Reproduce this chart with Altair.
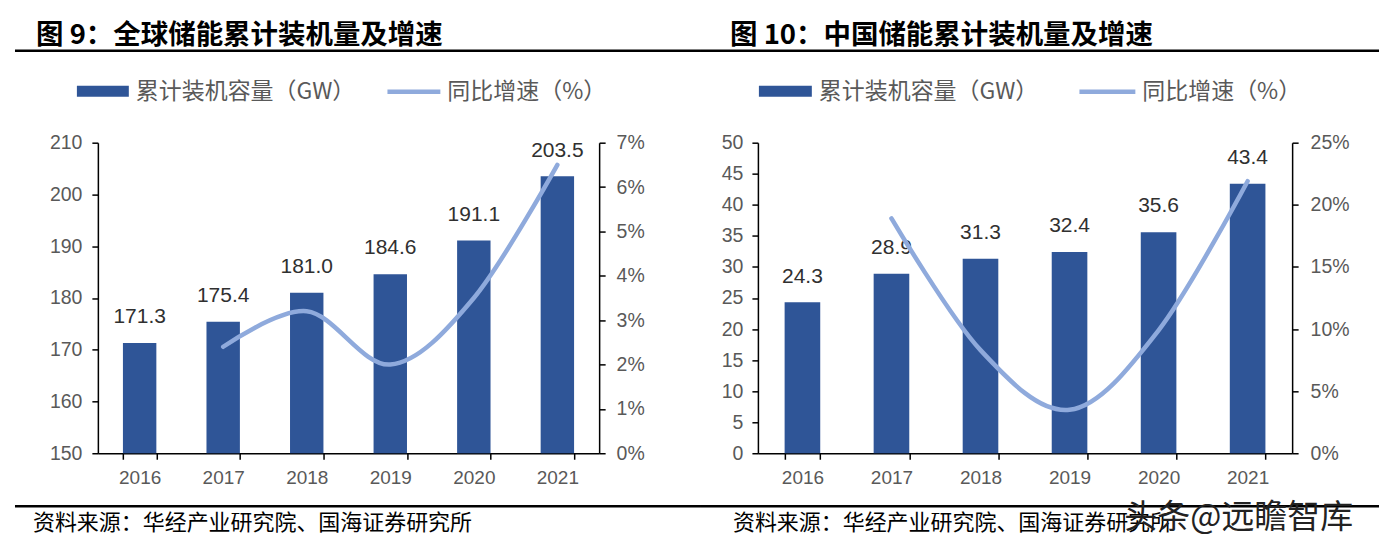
import altair as alt
import pandas as pd

# ---------------- data ----------------
years = ["2016", "2017", "2018", "2019", "2020", "2021"]
global_cap = [171.3, 175.4, 181.0, 184.6, 191.1, 203.5]
global_growth = [None, 2.4, 3.2, 2.0, 3.5, 6.5]
china_cap = [24.3, 28.9, 31.3, 32.4, 35.6, 43.4]
china_growth = [None, 18.9, 8.3, 3.5, 9.9, 21.9]

left_ticks = [150, 160, 170, 180, 190, 200, 210]
left_pct_ticks = [0, 1, 2, 3, 4, 5, 6, 7]
right_ticks = [0, 5, 10, 15, 20, 25, 30, 35, 40, 45, 50]
right_pct_ticks = [0, 5, 10, 15, 20, 25]

titles = ["图 9：全球储能累计装机量及增速", "图 10：中国储能累计装机量及增速"]
legend_labels = ["累计装机容量（GW）", "同比增速（%）"]
source_text = "资料来源：华经产业研究院、国海证券研究所"
watermark = "头条@远瞻智库"

# ---------------- styles ----------------
BAR = "#2F5597"
LINE = "#8FAADC"
AXIS_TXT = "#595959"
CJK = "Noto Sans CJK SC"
NUM = "Liberation Sans"
H = 311


def one(t=""):
    return alt.Chart(pd.DataFrame({"t": [t]}))


def text_deco(t, x, y, size, color="black", weight="normal", font=CJK):
    return one(t).mark_text(
        align="left", baseline="middle", font=font, fontSize=size,
        color=color, fontWeight=weight
    ).encode(x=alt.value(x), y=alt.value(y), text="t:N")


def rule_deco(x1, x2, y, color="black", sw=2.5):
    return one().mark_rule(color=color, strokeWidth=sw).encode(
        x=alt.value(x1), x2=alt.value(x2), y=alt.value(y)
    )


def rect_deco(x1, x2, y1, y2, color):
    return one().mark_rect(color=color).encode(
        x=alt.value(x1), x2=alt.value(x2), y=alt.value(y1), y2=alt.value(y2)
    )


def panel(cap, growth, cap_dom, cap_ticks, pct_dom, pct_ticks, width, decos,
          lab_pad_left, lab_pad_right):
    df = pd.DataFrame({"year": years, "cap": cap, "growth": growth})
    base = alt.Chart(df)
    xenc = alt.X(
        "year:N",
        scale=alt.Scale(paddingInner=0.6, paddingOuter=0.3),
        axis=alt.Axis(
            title=None, labelAngle=0, tickBand="extent", ticks=True, tickSize=6,
            tickColor="black", tickWidth=1.5, domainColor="black", domainWidth=1.5,
            labelFont=NUM, labelFontSize=19, labelColor=AXIS_TXT,
            labelBaseline="middle", labelPadding=18, grid=False,
        ),
    )
    yenc = alt.Y(
        "cap:Q",
        scale=alt.Scale(domain=cap_dom, nice=False, zero=False),
        axis=alt.Axis(
            title=None, orient="left", values=cap_ticks, tickSize=6, tickColor="black",
            tickWidth=1.5, domainColor="black", domainWidth=1.5,
            labelFont=NUM, labelFontSize=19.5, labelColor=AXIS_TXT,
            labelPadding=lab_pad_left, grid=False,
        ),
    )
    bars = base.mark_bar(color=BAR).encode(x=xenc, y=yenc, y2=alt.datum(cap_dom[0]))
    labels = base.mark_text(
        dy=-25.7, baseline="middle", font=NUM, fontSize=21, color="#303030"
    ).encode(
        x="year:N",
        y=yenc,
        text=alt.Text("cap:Q", format=".1f"),
    )
    line = base.mark_line(
        interpolate="cardinal", strokeWidth=4.5, color=LINE, strokeCap="round"
    ).encode(
        x="year:N",
        y=alt.Y(
            "growth:Q",
            scale=alt.Scale(domain=pct_dom, nice=False),
            axis=alt.Axis(
                title=None, orient="right", values=pct_ticks,
                labelExpr="datum.value + '%'", tickSize=6, tickColor="black",
                tickWidth=1.5, domainColor="black", domainWidth=1.5,
                labelFont=NUM, labelFontSize=19.5, labelColor=AXIS_TXT,
                labelPadding=lab_pad_right, grid=False,
            ),
        ),
    )
    inner = alt.layer(bars, labels)
    return alt.layer(inner, line, *decos).resolve_scale(y="independent").properties(
        width=width, height=H
    )


left_decos = [
    text_deco(titles[0], -62, -107, 27.5, weight="bold"),
    rule_deco(-83, 604, -92),
    rect_deco(-21, 31, -57, -46, BAR),
    text_deco(legend_labels[0], 38, -51, 23, color=AXIS_TXT),
    rule_deco(290, 343, -51, color=LINE, sw=4.5),
    text_deco(legend_labels[1], 350, -51, 23, color=AXIS_TXT),
    rule_deco(-83, 604, 364),
    text_deco(source_text, -65, 381, 22),
]

right_decos = [
    text_deco(titles[1], -28, -107, 27.5, weight="bold"),
    rule_deco(-57, 622, -92),
    rect_deco(1, 54, -57, -46, BAR),
    text_deco(legend_labels[0], 61, -51, 23, color=AXIS_TXT),
    rule_deco(322, 378, -51, color=LINE, sw=4.5),
    text_deco(legend_labels[1], 385, -51, 23, color=AXIS_TXT),
    rule_deco(-57, 622, 364),
    text_deco(source_text, -25, 381, 22),
    text_deco(watermark, 367, 376, 33, color="#222222"),
]

left = panel(global_cap, global_growth, [150, 210], left_ticks, [0, 7],
             left_pct_ticks, 502, left_decos, 10, 11)
right = panel(china_cap, china_growth, [0, 50], right_ticks, [0, 25],
              right_pct_ticks, 535, right_decos, 9, 12)

chart = (
    alt.hconcat(left, right, spacing=159, bounds="flush")
    .resolve_scale(x="independent", y="independent")
    .properties(padding={"left": 5, "top": 13.5, "right": 0, "bottom": 6})
    .configure_view(stroke=None)
)

chart.save("out.html", embed_options={"renderer": "svg", "actions": False})
